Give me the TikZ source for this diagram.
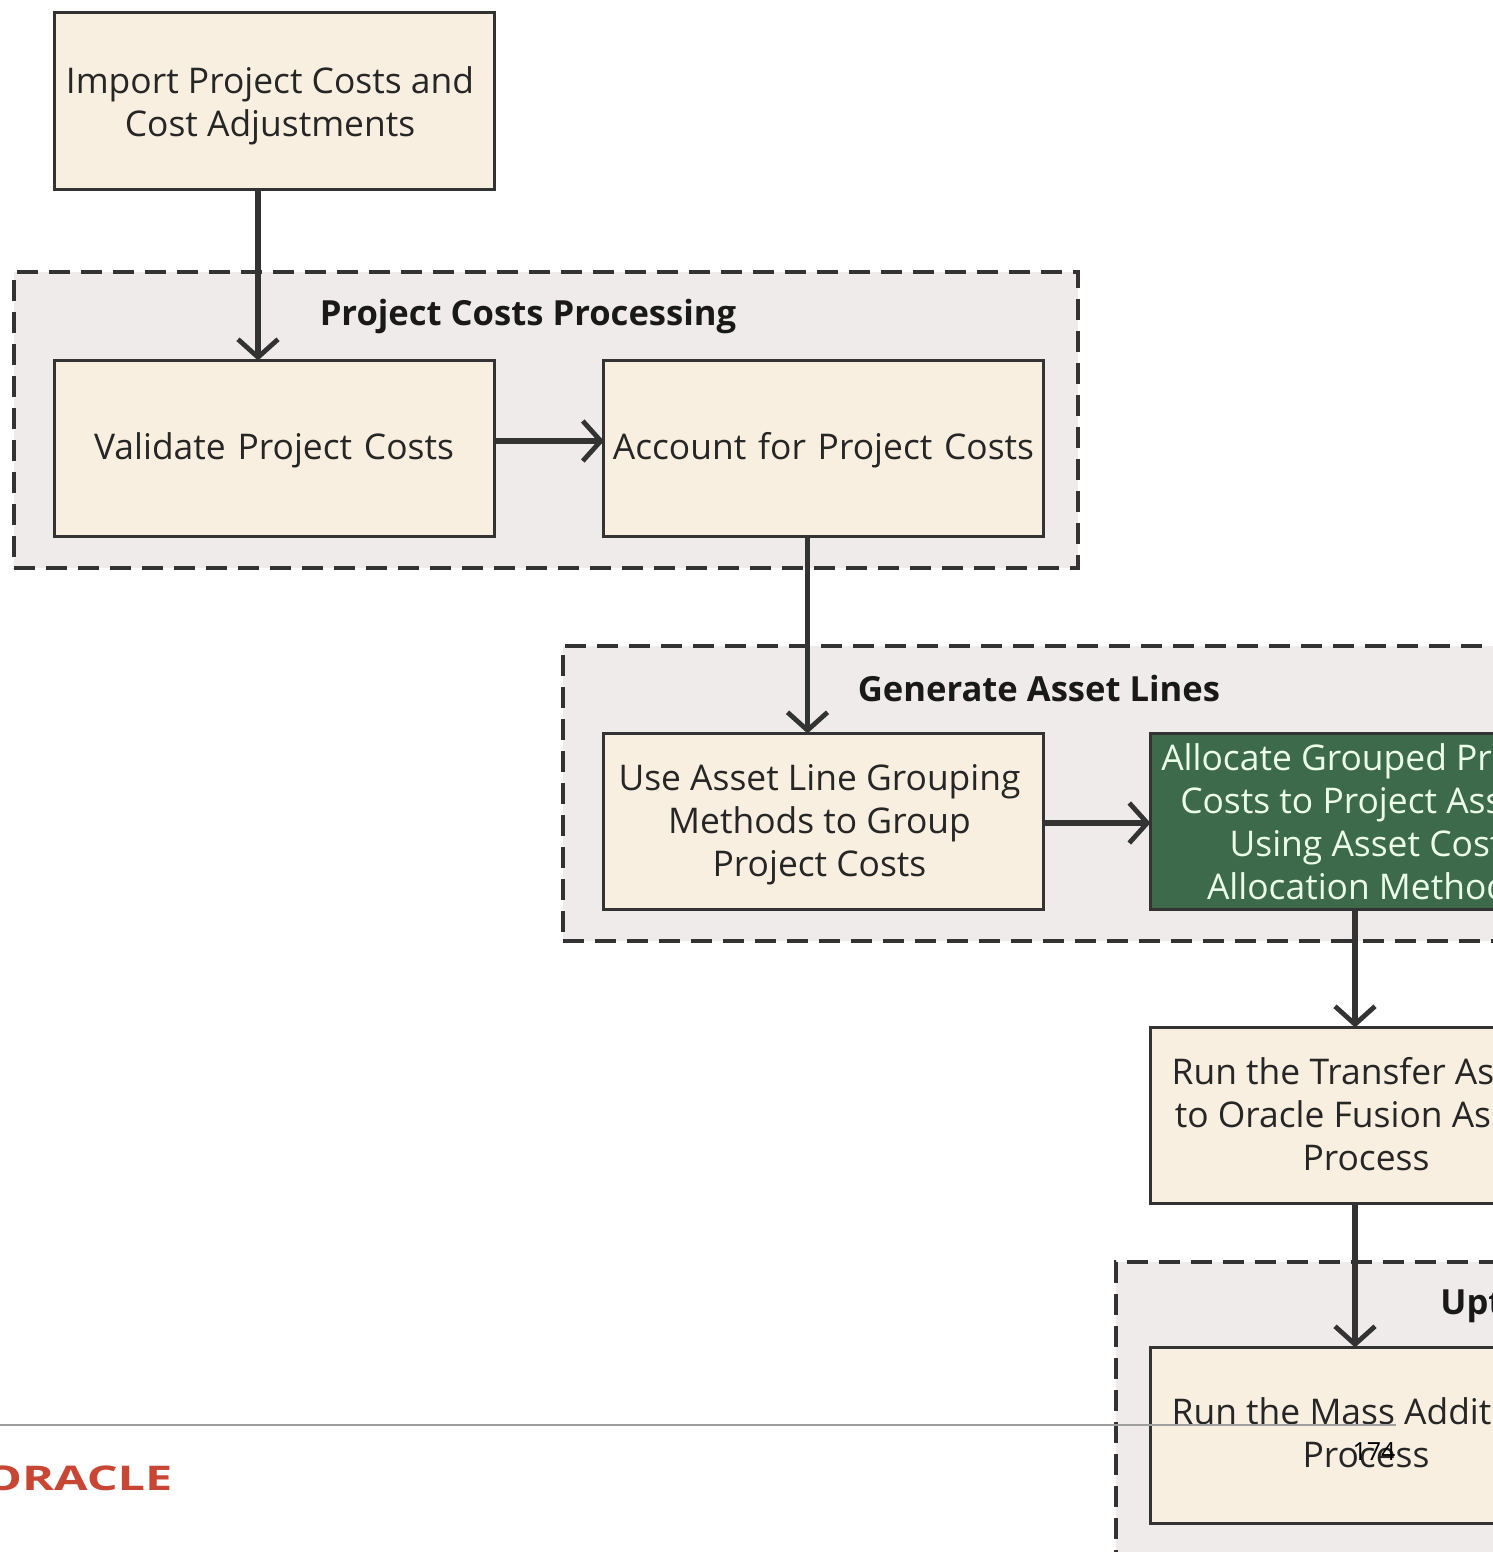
\documentclass[tikz,border=0pt]{standalone}
\usepackage{fontspec}
\setmainfont{Open Sans}
\usetikzlibrary{arrows.meta}
\definecolor{boxfill}{HTML}{F8EFE0}
\definecolor{groupfill}{HTML}{EEEBEA}
\definecolor{greenfill}{HTML}{3D6A4B}
\definecolor{inkline}{HTML}{333333}
\definecolor{logored}{HTML}{C74634}
\tikzset{
  procbox/.style={draw=inkline, fill=boxfill, line width=1.5pt, minimum width=220pt, minimum height=88pt,
    inner sep=0pt, text width=218pt, align=center, font=\fontsize{17.7}{21.5}\selectfont, text=black!85},
  textrise/.style={execute at end node={\par\vspace{#1}}},
  leftlean/.style={align=none, execute at begin node={\leftskip=0pt plus 1fil\rightskip=4pt plus 1fil\parfillskip=0pt\let\\\par}},
  greenbox/.style={procbox, leftlean, fill=greenfill, text=white!92!green},
  groupbox/.style={draw=inkline, fill=groupfill, line width=1.6pt, dash pattern=on 10.5pt off 5.5pt, inner sep=0pt},
  grouptitle/.style={font=\fontsize{17.3}{21.5}\selectfont\bfseries, text=black!90, inner sep=0pt},
  flow/.style={draw=inkline, line width=2.6pt, shorten >=-1pt, -{Straight Barb[length=9pt,width=20pt,line width=2.4pt]}}
}
\begin{document}
\begin{tikzpicture}[x=0.5pt,y=-0.5pt]
\useasboundingbox (0,0) rectangle (1493,1552);
\clip (0,0) rectangle (1493,1552);
% dashed groups
\node[groupbox, minimum width=532pt, minimum height=148pt] (costsgroup) at (546,420) {};
\node[groupbox, minimum width=540pt, minimum height=147.5pt] (linesgroup) at (1103,793.5) {};
\node[groupbox, minimum width=300pt, minimum height=200pt] (massgroup) at (1416,1462) {};
\node[grouptitle] (coststitle) at (528,317) {Project Costs Processing};
\node[grouptitle] (linestitle) at (1039,689) {Generate Asset Lines};
\node[grouptitle, anchor=west] (masstitle) at (1440,1305) {Uptake};
% steps
\node[procbox, leftlean, textrise=-5pt] (import) at (274,101) {Import Project Costs and\\Cost Adjustments};
\node[procbox, textrise=-2pt] (validate) at (274,448) {Validate Project Costs};
\node[procbox, textrise=-2pt] (account) at (823.5,448) {Account for Project Costs};
\node[procbox, leftlean, textrise=-4pt] (grouping) at (823.5,821) {Use Asset Line Grouping\\Methods to Group\\Project Costs};
\node[greenbox, textrise=-0.5pt] (allocate) at (1370,821) {Allocate Grouped Project\\Costs to Project Assets\\Using Asset Cost\\Allocation Methods};
\node[procbox, leftlean, textrise=1pt] (transfer) at (1370,1115) {Run the Transfer Assets\\to Oracle Fusion Assets\\Process};
\node[procbox, leftlean, textrise=2pt] (mass) at (1370,1435) {Run the Mass Additions\\Process};
% connectors
\draw[flow] ([xshift=-8pt]import.south) -- ([xshift=-8pt]validate.north);
\draw[flow] ([yshift=3.5pt]validate.east) -- ([yshift=3.5pt]account.west);
\draw[flow] ([xshift=-8pt]account.south) -- ([xshift=-8pt]grouping.north);
\draw[flow] ([yshift=-1pt]grouping.east) -- ([yshift=-1pt]allocate.west);
\draw[flow] ([xshift=-7.5pt]allocate.south) -- ([xshift=-7.5pt]transfer.north);
\draw[flow] ([xshift=-7.5pt]transfer.south) -- ([xshift=-7.5pt]mass.north);
% page footer
\coordinate (footleft) at (0,1425);
\coordinate (footright) at (1396,1425);
\draw[draw=black!38, line width=1pt] (footleft) -- (footright);
\node[font=\fontsize{12.5}{16}\selectfont, inner sep=0pt] (pagenum) at (1374,1452) {174};
\node[anchor=east, font=\fontsize{17}{20}\selectfont\bfseries, text=logored, inner sep=0pt, xscale=1.43, transform shape] (logo) at (173,1478) {ORACLE};
\end{tikzpicture}
\end{document}
